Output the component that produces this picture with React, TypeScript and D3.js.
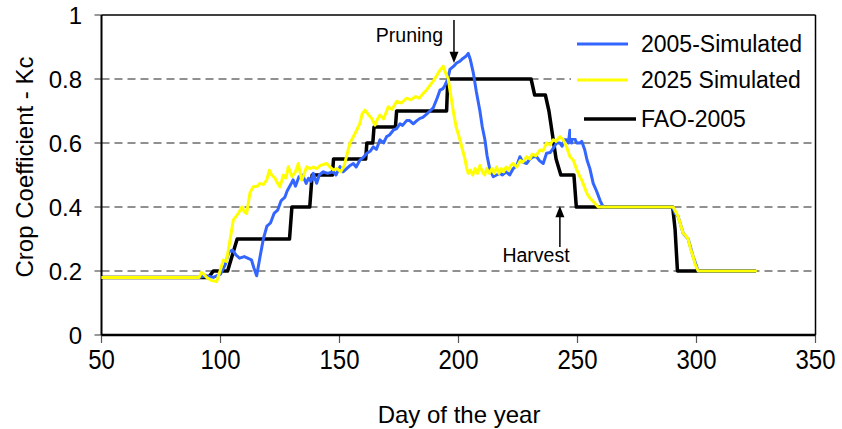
import React from "react";
import * as d3 from "d3";

const xTicks = [50, 100, 150, 200, 250, 300, 350];
const yTicks = [0, 0.2, 0.4, 0.6, 0.8, 1];
const gridValues = [0.2, 0.4, 0.6, 0.8];

const seriesNames = ["2005-Simulated", "2025 Simulated", "FAO-2005"];

const fao2005: [number, number][] = [
  [50, 0.18], [95, 0.18], [97, 0.2], [103, 0.2], [105, 0.25], [107, 0.3], [129, 0.3], [130, 0.4],
  [137.5, 0.4], [138.5, 0.5], [147, 0.5], [147.5, 0.55], [161, 0.55], [161.5, 0.6], [164, 0.6],
  [164.5, 0.65], [173.5, 0.65], [174, 0.7], [195, 0.7], [195.5, 0.8], [230.5, 0.8], [232, 0.75],
  [236.5, 0.75], [238, 0.7], [239, 0.65], [240, 0.6], [241, 0.55], [243, 0.5], [248.5, 0.5],
  [249.5, 0.4], [290, 0.4], [291, 0.33], [292, 0.2], [325, 0.2],
];

const sim2005: [number, number][] = [
  [50, 0.18], [91, 0.18], [94, 0.185], [97, 0.18], [100, 0.19], [102, 0.22], [103.5, 0.26], [105, 0.265],
  [106.5, 0.25], [108, 0.24], [110, 0.245], [113, 0.235], [114, 0.21], [115.2, 0.185], [116.5, 0.24],
  [118, 0.3], [119.5, 0.34], [121, 0.35], [122.5, 0.38], [124, 0.39], [125.5, 0.42], [127, 0.43],
  [128, 0.45], [129.5, 0.47], [130.5, 0.485], [131.5, 0.465], [133, 0.495], [134.5, 0.5], [136, 0.474],
  [137, 0.49], [138, 0.48], [139, 0.505], [140.4, 0.474], [141.5, 0.5], [143.2, 0.51], [145, 0.505],
  [147.4, 0.51], [148.5, 0.5], [150.2, 0.526], [151.5, 0.51], [153, 0.52], [154.5, 0.53], [155.8, 0.536],
  [157, 0.525], [158.6, 0.547], [160, 0.555], [161.5, 0.568], [163, 0.575], [164.2, 0.588], [165.5, 0.58],
  [167, 0.61], [168.5, 0.6], [169.8, 0.62], [171, 0.625], [172.6, 0.64], [174, 0.645], [175.4, 0.66],
  [176.5, 0.655], [178.2, 0.67], [179.5, 0.67], [181, 0.66], [182.5, 0.67], [183.8, 0.677], [185, 0.68],
  [186.6, 0.69], [188, 0.7], [189.4, 0.71], [191, 0.74], [192.2, 0.765], [193.5, 0.77], [194.3, 0.78],
  [195.5, 0.8], [196.4, 0.83], [198, 0.84], [199.2, 0.85], [200.5, 0.855], [202, 0.865], [203, 0.87],
  [204.1, 0.88], [205, 0.86], [206.2, 0.82], [207.5, 0.76], [209, 0.7], [210, 0.65], [211.1, 0.61],
  [212, 0.56], [213.2, 0.516], [214.6, 0.495], [216, 0.5], [217.4, 0.505], [218.5, 0.5], [220, 0.51],
  [221.5, 0.5], [223, 0.52], [224.5, 0.53], [225.8, 0.557], [227, 0.54], [228.6, 0.536], [230, 0.55],
  [231.4, 0.557], [232.8, 0.557], [234, 0.545], [235.6, 0.536], [237, 0.568], [238.5, 0.57],
  [239.8, 0.583], [241.2, 0.6], [242.6, 0.6], [243.5, 0.59], [244.5, 0.61], [245.4, 0.61], [246.2, 0.6],
  [246.8, 0.64], [247.5, 0.6], [248.2, 0.64], [249, 0.61], [249.7, 0.6], [251, 0.6], [251.8, 0.605],
  [253, 0.58], [254, 0.547], [255.2, 0.52], [256.6, 0.474], [258, 0.45], [259.5, 0.42], [260.8, 0.4],
  [290, 0.4], [291, 0.38], [292.3, 0.37], [294.4, 0.318], [296.5, 0.3], [298.6, 0.245], [300.7, 0.2],
  [325, 0.2],
];

const sim2025: [number, number][] = [
  [50, 0.18], [91, 0.18], [92, 0.195], [93, 0.19], [94.2, 0.18], [96.3, 0.17], [98.4, 0.167], [99.8, 0.2],
  [101.2, 0.234], [102.5, 0.23], [104, 0.297], [105.4, 0.36], [107.5, 0.38], [109, 0.4], [110, 0.385],
  [111, 0.38], [112.4, 0.445], [113.8, 0.463], [115.5, 0.465], [116.6, 0.474], [118, 0.47], [119.4, 0.484],
  [120.5, 0.515], [121.5, 0.5], [122.9, 0.49], [124, 0.474], [125, 0.463], [126.4, 0.5], [127.5, 0.49],
  [128.5, 0.526], [130, 0.495], [131.5, 0.51], [132.7, 0.536], [134.1, 0.484], [135, 0.5], [136.2, 0.526],
  [137.6, 0.52], [139, 0.525], [140.4, 0.52], [142, 0.53], [144.6, 0.536], [146, 0.525], [147.4, 0.516],
  [149, 0.52], [150.5, 0.51], [152, 0.53], [153, 0.56], [154.4, 0.6], [155.5, 0.615], [157.2, 0.64],
  [158.5, 0.66], [159.5, 0.69], [160.7, 0.703], [162, 0.69], [163.5, 0.677], [164.9, 0.656], [166, 0.675],
  [167, 0.6875], [168.5, 0.675], [170.5, 0.713], [172, 0.705], [174, 0.73], [176, 0.725], [178.2, 0.74],
  [180, 0.735], [182, 0.745], [183.5, 0.74], [185.2, 0.755], [186.5, 0.765], [188, 0.78], [189.5, 0.795],
  [190.8, 0.81], [192, 0.825], [193.6, 0.84], [194.5, 0.82], [195.7, 0.8], [196.5, 0.76], [197.8, 0.7],
  [199, 0.65], [200.6, 0.61], [202, 0.57], [202.7, 0.55], [203.5, 0.52], [204.1, 0.505], [205, 0.515],
  [206, 0.5], [207, 0.52], [208, 0.505], [209, 0.53], [210, 0.51], [211, 0.5], [211.8, 0.52], [213, 0.505],
  [214, 0.52], [215, 0.505], [216, 0.525], [217, 0.505], [218, 0.52], [219, 0.51], [220, 0.525],
  [221, 0.515], [222, 0.53], [223, 0.536], [224.5, 0.525], [226, 0.545], [227, 0.54], [228.6, 0.557],
  [230, 0.55], [231, 0.565], [232.5, 0.56], [234.2, 0.578], [235.5, 0.575], [237, 0.6], [238.5, 0.595],
  [239.8, 0.61], [241, 0.605], [242.6, 0.62], [244, 0.61], [245.4, 0.588], [246.8, 0.557], [248.2, 0.547],
  [249.7, 0.516], [251, 0.495], [251.8, 0.484], [253.9, 0.443], [255, 0.43], [256.6, 0.417], [258.7, 0.4],
  [290.2, 0.4], [292.3, 0.37], [293.5, 0.34], [294.4, 0.318], [295.5, 0.31], [296.5, 0.3], [297.5, 0.27],
  [298.6, 0.245], [299.5, 0.22], [300.7, 0.2], [325.3, 0.2],
];

const pruningDay = 198.1;
const harvestDay = 242.6;

const FONT = "'Liberation Sans', Arial, sans-serif";

export default function App() {
  const W = 842, H = 429;
  const left = 101.5, right = 815.5, top = 15, bottom = 335;
  const x = d3.scaleLinear().domain([50, 350]).range([left, right]);
  const y = d3.scaleLinear().domain([0, 1]).range([bottom, top]);
  const line = d3.line<[number, number]>().x((d) => x(d[0])).y((d) => y(d[1]));

  const colors = ["#3366FF", "#FFFF00", "#000000"];

  const pX = x(pruningDay);
  const hX = x(harvestDay);

  return (
    <svg width={W} height={H} style={{ position: "absolute", left: 0, top: 0, background: "#fff" }} fontFamily={FONT}>
      <rect x={0} y={0} width={W} height={H} fill="#fff" />
      {gridValues.map((v) => (
        <line key={v} x1={left} x2={right} y1={y(v)} y2={y(v)} stroke="#222" strokeWidth={1.1} strokeDasharray="8,5" />
      ))}
      <line x1={left} x2={right} y1={top} y2={top} stroke="#000" strokeWidth={1.5} />
      <line x1={right} x2={right} y1={top} y2={bottom} stroke="#000" strokeWidth={1.5} />
      {yTicks.map((v) => (
        <g key={v}>
          <line x1={left - 7} x2={left} y1={y(v)} y2={y(v)} stroke="#555" strokeWidth={1.2} />
          <text x={82} y={y(v)} textAnchor="end" dominantBaseline="central" fontSize={24} fill="#000">
            {v === 0 || v === 1 ? String(v) : v.toFixed(1)}
          </text>
        </g>
      ))}
      {xTicks.map((v) => (
        <g key={v}>
          <line x1={x(v)} x2={x(v)} y1={bottom} y2={bottom + 8} stroke="#555" strokeWidth={1.2} />
          <g transform={`translate(${x(v)},369) scale(1,1.18)`}>
            <text x={0} y={0} textAnchor="middle" fontSize={24} fill="#000">
              {v}
            </text>
          </g>
        </g>
      ))}
      <line x1={left} x2={left} y1={top} y2={bottom} stroke="#000" strokeWidth={2} />
      <line x1={left} x2={right} y1={bottom} y2={bottom} stroke="#000" strokeWidth={2.5} />

      <path d={line(fao2005) || ""} fill="none" stroke={colors[2]} strokeWidth={3.5} strokeLinejoin="round" />
      <path d={line(sim2005) || ""} fill="none" stroke={colors[0]} strokeWidth={3} strokeLinejoin="round" />
      <path d={line(sim2025) || ""} fill="none" stroke={colors[1]} strokeWidth={3} strokeLinejoin="round" />

      <line x1={pX} x2={pX} y1={y(0.984)} y2={y(0.87)} stroke="#000" strokeWidth={1.5} />
      <polygon points={`${pX},${y(0.85)} ${pX - 4.5},${y(0.885)} ${pX + 4.5},${y(0.885)}`} fill="#000" />
      <text x={443} y={42} textAnchor="end" fontSize={19.5} fill="#000">Pruning</text>

      <line x1={hX} x2={hX} y1={y(0.275)} y2={y(0.385)} stroke="#000" strokeWidth={1.5} />
      <polygon points={`${hX},${y(0.403)} ${hX - 4.5},${y(0.368)} ${hX + 4.5},${y(0.368)}`} fill="#000" />
      <text x={536} y={262} textAnchor="middle" fontSize={19.5} fill="#000">Harvest</text>

      <rect x={571} y={24} width={243} height={114} fill="#fff" />
      {seriesNames.map((name, i) => {
        const ly = [44, 80, 119][i];
        const x1 = i === 2 ? 584 : 577;
        const x2 = i === 2 ? 636 : 628;
        return (
          <g key={name}>
            <line x1={x1} x2={x2} y1={ly} y2={ly} stroke={colors[i]} strokeWidth={i === 2 ? 3.5 : 3} />
            <text x={641} y={ly} dominantBaseline="central" fontSize={23} fill="#000">{name}</text>
          </g>
        );
      })}

      <text x={459} y={423} textAnchor="middle" fontSize={24} fill="#000">Day of the year</text>
      <text transform={`translate(33,167) rotate(-90)`} textAnchor="middle" fontSize={24} fill="#000">
        Crop Coefficient - Kc
      </text>
    </svg>
  );
}
